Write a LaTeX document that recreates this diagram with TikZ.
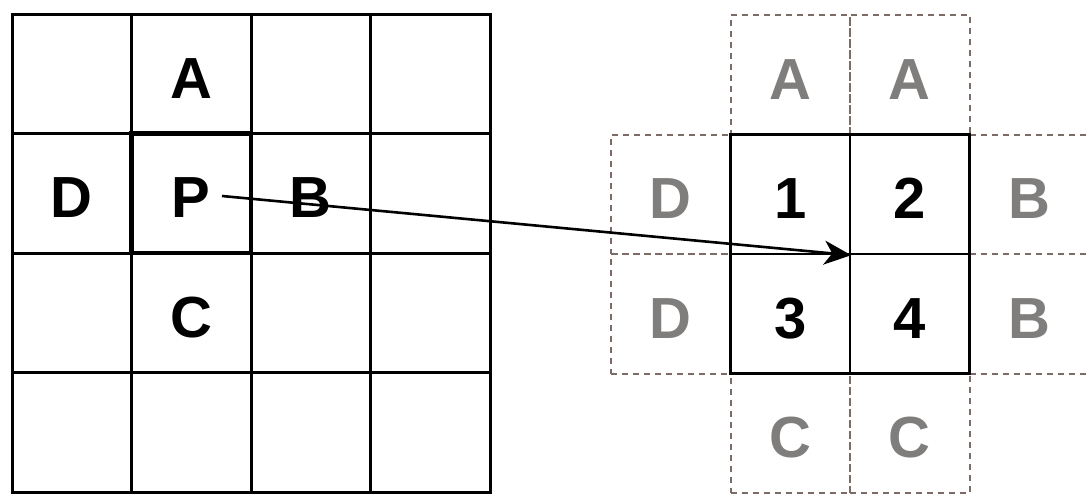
\documentclass[tikz,border=0pt]{standalone}
\usepackage{fontspec}
\setmainfont{Liberation Sans}
\usetikzlibrary{arrows.meta}
\definecolor{dashcol}{RGB}{125,108,102}
\definecolor{graytxt}{RGB}{128,126,124}
\begin{document}
\begin{tikzpicture}[x=1pt,y=-1pt,
  lettr/.style={font=\fontsize{58}{60}\selectfont\bfseries,text height=49pt,text depth=0pt},
  cellbox/.style={rectangle,draw=black,line width=3pt,minimum width=119.5pt,minimum height=119.5pt,inner sep=0pt,lettr},
  pbox/.style={cellbox,line width=4.2pt},
  dashbox/.style={rectangle,draw=dashcol,line width=2pt,dash pattern=on 6pt off 5pt,minimum width=119.5pt,minimum height=119.5pt,inner sep=0pt,
    lettr,text=graytxt},
  midbox/.style={rectangle,draw=black,line width=2.4pt,minimum width=119.5pt,minimum height=119.5pt,inner sep=0pt,lettr},
  conn/.style={draw=black,line width=2.6pt,-{Stealth[length=27pt,width=24pt,inset=8pt]}}]
\useasboundingbox (0,0) rectangle (1088,498);
\fill[white] (0,0) rectangle (1088,498);
% left grid
\foreach \i in {0,...,3}{
  \foreach \j in {0,...,3}{
    \node[cellbox] (g\i\j) at ({12+119.5*(\i+0.5)},{14+119.5*(\j+0.5)}) {};
  }
}
\node[cellbox,draw=none] (la) at (g10) {A};
\node[cellbox,draw=none] (ld) at (g01) {D};
\node[cellbox,draw=none] (lb) at (g21) {B};
\node[cellbox,draw=none] (lc) at (g12) {C};
\node[pbox] (lp) at (g11) {P};
% right dashed cells
\node[dashbox] (ra1) at (790.25,74.75) {A};
\node[dashbox] (ra2) at (909.75,74.75) {A};
\node[dashbox] (rd1) at (670.75,194.25) {D};
\node[dashbox] (rd2) at (670.75,313.75) {D};
\node[dashbox] (rb1) at (1029.25,194.25) {B};
\node[dashbox] (rb2) at (1029.25,313.75) {B};
\node[dashbox] (rc1) at (790.25,433.25) {C};
\node[dashbox] (rc2) at (909.75,433.25) {C};
% center cells
\node[midbox] (c1) at (790.25,194.25) {1};
\node[midbox] (c2) at (909.75,194.25) {2};
\node[midbox] (c3) at (790.25,313.75) {3};
\node[midbox] (c4) at (909.75,313.75) {4};
% arrow
\coordinate (pstart) at (222,196);
\draw[conn] (pstart) -- (c1.south east);
\end{tikzpicture}
\end{document}
